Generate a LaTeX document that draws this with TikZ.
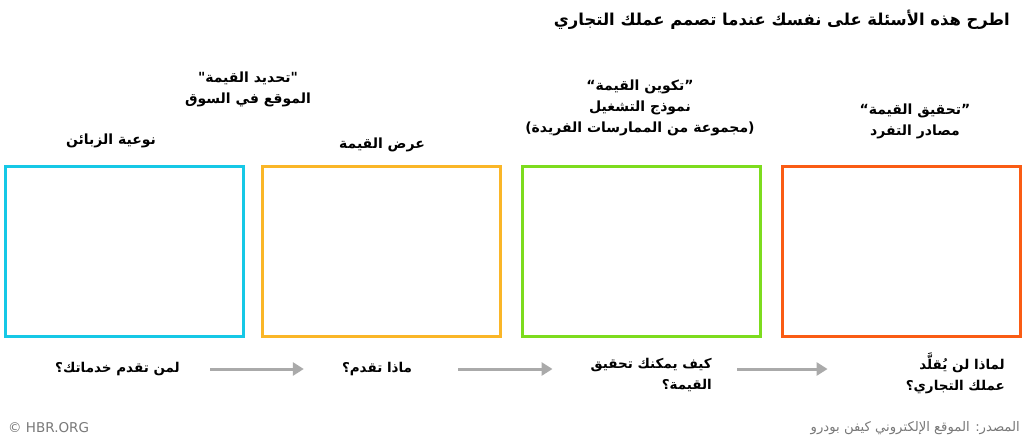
\documentclass[tikz,border=0pt]{standalone}
\usepackage{fontspec}
\setsansfont{DejaVu Sans}
\newfontfamily\arabicfont[Script=Arabic]{DejaVu Sans}
\TeXXeTstate=1
\usetikzlibrary{arrows.meta, positioning}
\usepackage{xcolor}
\definecolor{custcyan}{RGB}{22,200,230}
\definecolor{valyellow}{RGB}{250,182,40}
\definecolor{opgreen}{RGB}{125,220,30}
\definecolor{capred}{RGB}{250,92,20}
\definecolor{flowgray}{RGB}{170,170,170}
\definecolor{notegray}{RGB}{120,120,120}
\newcommand{\artxt}[1]{\beginR #1\endR}

\begin{document}
\begin{tikzpicture}[x=1pt, y=-1pt,
    frame/.style={draw, line width=3pt, minimum width=238pt, minimum height=170pt, inner sep=0pt},
    head/.style={font=\arabicfont\bfseries\fontsize{14}{21}\selectfont, align=center, inner sep=0pt},
    quest/.style={font=\arabicfont\bfseries\fontsize{13.5}{21}\selectfont, align=right, inner sep=0pt},
    note/.style={font=\arabicfont\fontsize{13.2}{15}\selectfont, text=notegray, inner sep=0pt},
    flow/.style={draw=flowgray, line width=3pt, -{Triangle[length=11pt, width=13pt]}}]
    \useasboundingbox (0,0) rectangle (1024,439);

    % title
    \node[head, anchor=east, font=\arabicfont\bfseries\fontsize{16.4}{20}\selectfont] (title) at (1010,20) {\artxt{اطرح هذه الأسئلة على نفسك عندما تصمم عملك التجاري}};

    % the four boxes
    \node[frame, draw=custcyan] (cust) at (124,251) {};
    \node[frame, draw=valyellow] (val) at (381.5,251) {};
    \node[frame, draw=opgreen] (oper) at (641,251) {};
    \node[frame, draw=capred] (capt) at (901.5,251) {};

    % headings
    \node[head] (hcust) at (111,141) {\artxt{نوعية الزبائن}};
    \node[head] (hpos) at (248,89) {\artxt{"تحديد القيمة"}\\ \artxt{الموقع في السوق}};
    \node[head] (hval) at (382,145) {\artxt{عرض القيمة}};
    \node[head] (hoper) at (640,108) {\artxt{”تكوين القيمة“}\\ \artxt{نموذج التشغيل}\\ \artxt{(مجموعة من الممارسات الفريدة)}};
    \node[head] (hcapt) at (915,121) {\artxt{”تحقيق القيمة“}\\ \artxt{مصادر التفرد}};

    % questions
    \node[quest, anchor=east] (qcust) at (180,369) {\artxt{لمن تقدم خدماتك؟}};
    \node[quest] (qval) at (377,369) {\artxt{ماذا تقدم؟}};
    \node[quest, anchor=east] (qoper) at (712,375) {\artxt{كيف يمكنك تحقيق}\\ \artxt{القيمة؟}};
    \node[quest, anchor=east] (qcapt) at (1005,373) {\artxt{لماذا لن يُقلَّد}\\ \artxt{عملك التجاري؟}};

    \draw[flow] ([xshift=30pt]qcust.east) -- ([xshift=-38pt]qval.west);
    \draw[flow] ([xshift=46pt]qval.east) -- ([xshift=-38pt, yshift=6pt]qoper.west);
    \draw[flow] ([xshift=25pt, yshift=6pt]qoper.east) -- ([xshift=-78pt, yshift=4pt]qcapt.west);

    % footer
    \node[note, anchor=west, font=\sffamily\fontsize{13.5}{15}\selectfont] (hbr) at (8,428) {© HBR.ORG};
    \node[note, anchor=east] (src) at (1020,428) {\artxt{المصدر: الموقع الإلكتروني كيفن بودرو}};
\end{tikzpicture}
\end{document}
